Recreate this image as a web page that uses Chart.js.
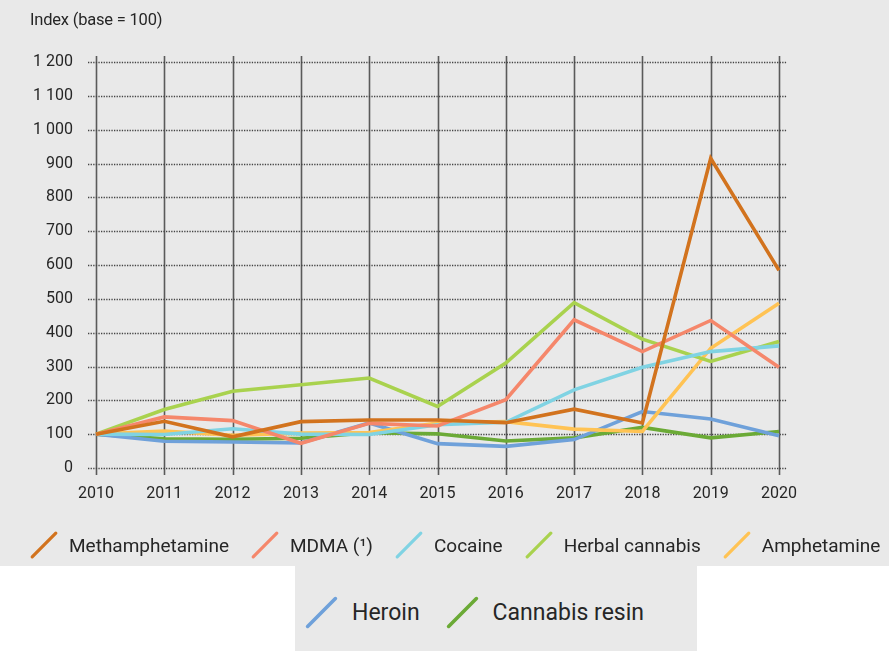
<!DOCTYPE html>
<html>
<head>
<meta charset="utf-8">
<script src="https://cdn.jsdelivr.net/npm/chart.js@4"></script>
<style>
  html, body { margin: 0; padding: 0; background: #ffffff; }
  body { width: 889px; height: 651px; position: relative; overflow: hidden;
         font-family: Roboto, "Liberation Sans", sans-serif; color: #262626; }
  #top { position: absolute; left: 0; top: 0; width: 889px; height: 566px; background: #e9e9e9; }
  #chartBox { position: absolute; left: 0; top: 0; width: 889px; height: 530px; }
  #yTitle { position: absolute; left: 30px; top: 10px; font-size: 16.5px; letter-spacing: -0.2px; }
  .legend { position: absolute; display: flex; align-items: center; white-space: nowrap; }
  .legend .item { display: flex; align-items: center; }
  #leg1 { left: 29px; top: 529px; height: 32px; font-size: 19px; }
  #leg1 .item { margin-right: 21px; }
  #leg1 svg { margin-right: 10px; }
  #leg2box { position: absolute; left: 295px; top: 566px; width: 402px; height: 85px; background: #e9e9e9; }
  #leg2 { left: 304px; top: 594px; height: 36px; font-size: 23px; }
  #leg2 .item { margin-right: 25px; }
  #leg2 svg { margin-right: 13px; }
</style>
</head>
<body>
<div id="top">
  <div id="chartBox"><canvas id="chart"></canvas></div>
  <div id="yTitle">Index (base = 100)</div>
  <div id="leg1" class="legend"></div>
</div>
<div id="leg2box"></div>
<div id="leg2" class="legend"></div>

<script>
/* ------------------------------------------------------------
   Data (index, base 2010 = 100)
------------------------------------------------------------ */
var years = ['2010', '2011', '2012', '2013', '2014', '2015', '2016', '2017', '2018', '2019', '2020'];
var yTicks = [0, 100, 200, 300, 400, 500, 600, 700, 800, 900, 1000, 1100, 1200];

var methamphetamine = [100, 138, 92, 137, 142, 142, 134, 174, 133, 915, 584];
var mdma            = [100, 151, 140, 73, 132, 124, 202, 438, 344, 436, 298];
var cocaine         = [100, 99, 116, 100, 99, 128, 135, 231, 298, 344, 361];
var herbalCannabis  = [100, 173, 227, 246, 266, 182, 310, 489, 381, 315, 374];
var amphetamine     = [100, 109, 97, 103, 105, 133, 137, 115, 108, 354, 487];
var heroin          = [100, 79, 77, 74, 133, 72, 64, 84, 167, 145, 95];
var cannabisResin   = [100, 86, 85, 88, 104, 101, 80, 89, 120, 89, 108];

var seriesNames  = ['Methamphetamine', 'MDMA (\u00b9)', 'Cocaine', 'Herbal cannabis', 'Amphetamine', 'Heroin', 'Cannabis resin'];
var seriesData   = [methamphetamine, mdma, cocaine, herbalCannabis, amphetamine, heroin, cannabisResin];
var seriesColors = ['#D2731E', '#F5876B', '#80D3E3', '#A9D24E', '#FFC354', '#6FA1DA', '#6BAA36'];

/* ------------------------------------------------------------
   Grid: dotted horizontals, solid verticals, both running
   a little past the plot area like the original
------------------------------------------------------------ */
var gridPlugin = {
  id: 'refGrid',
  beforeDatasetsDraw: function (chart) {
    var ctx = chart.ctx, a = chart.chartArea;
    var xs = chart.scales.x, ys = chart.scales.y;
    ctx.save();
    ctx.strokeStyle = '#5a5a5a';
    ctx.lineWidth = 1.6;
    years.forEach(function (y, i) {
      var px = Math.round(xs.getPixelForValue(i)) + 0.5;
      ctx.beginPath();
      ctx.moveTo(px, a.top - 6);
      ctx.lineTo(px, a.bottom + 7);
      ctx.stroke();
    });
    ctx.strokeStyle = '#444444';
    ctx.lineWidth = 1.4;
    ctx.setLineDash([1.3, 1.3]);
    yTicks.forEach(function (v) {
      var py = Math.round(ys.getPixelForValue(v)) + 0.5;
      ctx.beginPath();
      ctx.moveTo(a.left - 8, py);
      ctx.lineTo(a.right + 8, py);
      ctx.stroke();
    });
    ctx.restore();
  }
};

/* ------------------------------------------------------------
   Chart
------------------------------------------------------------ */
var datasets = seriesNames.map(function (name, i) {
  return {
    label: name,
    data: seriesData[i],
    borderColor: seriesColors[i],
    backgroundColor: seriesColors[i],
    borderWidth: 3.6,
    pointRadius: 0,
    tension: 0,
    fill: false
  };
});

var tickFont = { family: 'Roboto, "Liberation Sans", sans-serif', size: 16 };

new Chart(document.getElementById('chart'), {
  type: 'line',
  data: { labels: years, datasets: datasets },
  plugins: [gridPlugin],
  options: {
    responsive: true,
    maintainAspectRatio: false,
    animation: false,
    layout: { padding: { left: 0, right: 110, top: 62, bottom: 14 } },
    plugins: { legend: { display: false }, tooltip: { enabled: false } },
    scales: {
      x: {
        offset: false,
        grid: { display: false, drawTicks: false },
        border: { display: false },
        ticks: { font: tickFont, color: '#262626', padding: 16, maxRotation: 0, autoSkip: false },
        afterFit: function (s) { s.height = 48; }
      },
      y: {
        min: 0,
        max: 1200,
        afterBuildTicks: function (s) { s.ticks = yTicks.map(function (v) { return { value: v }; }); },
        grid: { display: false, drawTicks: false },
        border: { display: false },
        ticks: {
          font: tickFont,
          color: '#262626',
          padding: 23,
          callback: function (v) { return v >= 1000 ? Math.floor(v / 1000) + ' ' + String(v % 1000).padStart(3, '0') : String(v); }
        },
        afterFit: function (s) { s.width = 96; }
      }
    }
  }
});

/* ------------------------------------------------------------
   Legend (HTML, slanted line glyphs)
------------------------------------------------------------ */
function glyph(color, w, h, lw) {
  return '<svg width="' + w + '" height="' + h + '"><line x1="' + (lw) + '" y1="' + (h - lw) + '" x2="' + (w - lw) +
    '" y2="' + lw + '" stroke="' + color + '" stroke-width="' + lw + '" stroke-linecap="round"/></svg>';
}
function buildLegend(id, from, to, w, h, lw) {
  var html = '';
  for (var i = from; i < to; i++) {
    html += '<div class="item">' + glyph(seriesColors[i], w, h, lw) + '<span>' + seriesNames[i] + '</span></div>';
  }
  document.getElementById(id).innerHTML = html;
}
buildLegend('leg1', 0, 5, 30, 30, 3.2);
buildLegend('leg2', 5, 7, 35, 35, 3.6);
</script>
</body>
</html>
